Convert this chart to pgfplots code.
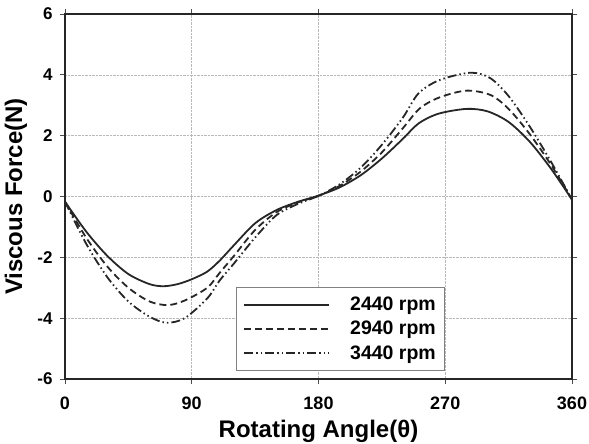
\documentclass[border=0pt]{standalone}
\usepackage{fontspec}
\setmainfont{Liberation Sans}
\usepackage{pgfplots}
\pgfplotsset{compat=1.18}
\begin{document}
\begin{tikzpicture}
\begin{axis}[
 scale only axis, width=507pt, height=365pt,
 xmin=0,xmax=360,ymin=-6,ymax=6,
 xtick={0,90,180,270,360}, ytick={-6,-4,-2,0,2,4,6},
 grid=major, major grid style={densely dotted, gray!55, line width=0.6pt},
 axis line style={line width=2.4pt, black!85},
 tick style={black!70, line width=0.8pt},
 tick align=outside, major tick length=5pt,
 xticklabel style={font=\fontsize{18}{18}\selectfont\bfseries, yshift=-9pt},
 yticklabel style={font=\fontsize{17}{17}\selectfont\bfseries, xshift=-4pt},
 /pgf/number format/assume math mode=true,
 xlabel={Rotating Angle(θ)}, ylabel={Viscous Force(N)},
 label style={font=\fontsize{24}{24}\selectfont\bfseries},
 xlabel style={at={(rel axis cs:0.5,0)}, anchor=base, yshift=-58pt},
 ylabel style={at={(rel axis cs:0,0.5)}, anchor=center, yshift=49pt},
 legend style={at={(rel axis cs:0.75,0.022)}, anchor=south east, draw=gray, line width=0.8pt, fill=white,
   font=\fontsize{19.5}{19.5}\selectfont\bfseries, row sep=5pt, inner xsep=7pt, inner ysep=8pt,
   /tikz/every odd column/.append style={column sep=18pt}},
 legend image code/.code={\draw[#1] (0pt,0pt) -- (85pt,0pt);},
 legend cell align=left,
 every axis plot/.append style={line width=1.8pt, black!85, smooth, tension=0.5},
]
\addplot[solid] coordinates {(0,-0.17)(15,-1.15)(30,-1.95)(45,-2.55)(60,-2.88)(70,-2.95)(80,-2.88)(90,-2.72)(101,-2.47)(110,-2.1)(120,-1.6)(135,-0.88)(150,-0.45)(165,-0.18)(180,0.03)(195,0.3)(210,0.7)(225,1.25)(240,1.9)(251,2.4)(265,2.72)(285,2.88)(300,2.8)(315,2.45)(330,1.8)(345,0.92)(360,-0.1)};
\addlegendentry{2440 rpm}
\addplot[dash pattern=on 7pt off 4pt] coordinates {(0,-0.17)(15,-1.35)(30,-2.3)(45,-3.0)(60,-3.45)(73,-3.57)(85,-3.42)(101,-3.0)(110,-2.5)(120,-1.95)(135,-1.1)(150,-0.52)(165,-0.2)(180,0.02)(195,0.35)(210,0.82)(225,1.45)(240,2.25)(252,2.9)(266,3.26)(285,3.48)(302,3.34)(315,2.88)(330,2.05)(345,1.05)(360,-0.1)};
\addlegendentry{2940 rpm}
\addplot[dash pattern=on 9pt off 3pt on 1.5pt off 3pt on 1.5pt off 3pt] coordinates {(0,-0.17)(15,-1.55)(30,-2.65)(45,-3.45)(60,-3.95)(72,-4.15)(85,-4.0)(101,-3.35)(110,-2.75)(120,-2.2)(135,-1.35)(150,-0.62)(165,-0.25)(180,0.02)(195,0.4)(210,0.95)(225,1.7)(240,2.6)(251,3.39)(266,3.83)(288,4.07)(302,3.89)(315,3.3)(330,2.3)(345,1.15)(360,-0.1)};
\addlegendentry{3440 rpm}
\end{axis}
\pgfresetboundingbox
\path ([xshift=-65pt,yshift=-64pt]current axis.south west) rectangle ([xshift=17pt,yshift=14pt]current axis.north east);
\end{tikzpicture}
\end{document}
